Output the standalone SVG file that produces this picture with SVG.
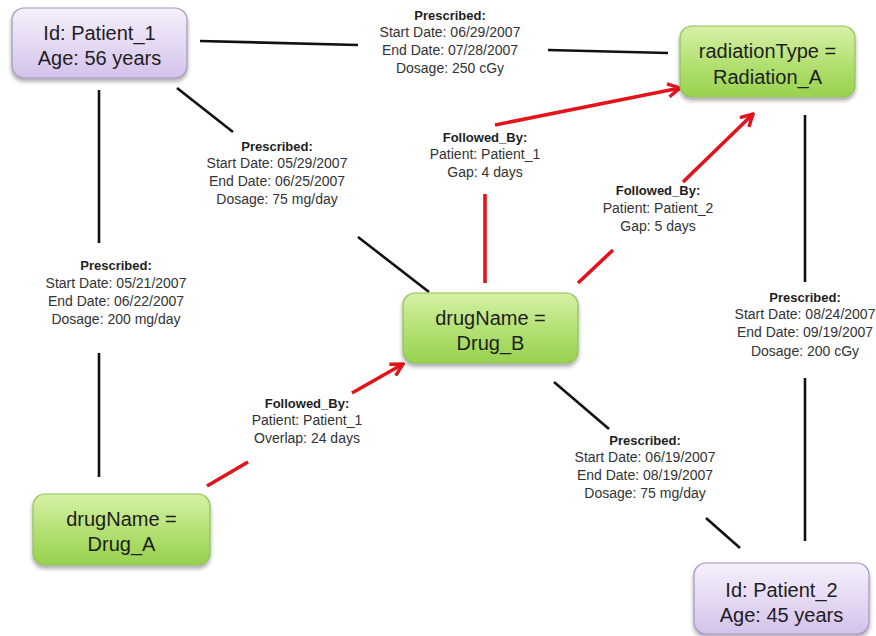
<svg xmlns="http://www.w3.org/2000/svg" width="876" height="636" viewBox="0 0 876 636">
  <style>
    .node-text { font-family: "Liberation Sans", Arial, sans-serif; font-size: 20px; fill: #1e1e1e; text-anchor: middle; }
    .lbl { font-family: "Liberation Sans", Arial, sans-serif; font-size: 14px; fill: #333333; text-anchor: middle; }
    .lbl-h { font-family: "Liberation Sans", Arial, sans-serif; font-size: 13px; font-weight: bold; fill: #1e1e1e; text-anchor: middle; }
    .rel { stroke: #111111; stroke-width: 2.6; fill: none; }
    .seq { stroke: #e3131b; stroke-width: 3.6; fill: none; }
    .patient { fill: url(#gradPatient); stroke: #a494c4; stroke-width: 1.2; filter: url(#shadow); }
    .value { fill: url(#gradValue); stroke: #8fc256; stroke-width: 1.2; filter: url(#shadow); }
  </style>
  <defs>
    <linearGradient id="gradPatient" x1="0" y1="0" x2="0" y2="1">
      <stop offset="0" stop-color="#f5f0fb"/>
      <stop offset="0.5" stop-color="#e6daf3"/>
      <stop offset="1" stop-color="#d3c2ea"/>
    </linearGradient>
    <linearGradient id="gradValue" x1="0" y1="0" x2="0" y2="1">
      <stop offset="0" stop-color="#d6f1a6"/>
      <stop offset="0.5" stop-color="#b5e175"/>
      <stop offset="1" stop-color="#97d24e"/>
    </linearGradient>
    <filter id="shadow" x="-10%" y="-10%" width="125%" height="135%">
      <feGaussianBlur in="SourceAlpha" stdDeviation="2.2"/>
      <feOffset dx="0" dy="2.5" result="blur"/>
      <feComponentTransfer><feFuncA type="linear" slope="0.35"/></feComponentTransfer>
      <feMerge><feMergeNode/><feMergeNode in="SourceGraphic"/></feMerge>
    </filter>
    <marker id="openArrow" viewBox="0 0 16 16" refX="14" refY="8" markerWidth="16" markerHeight="16" markerUnits="userSpaceOnUse" orient="auto">
      <path d="M2,1.5 L14,8 L2,14.5" fill="none" stroke="#e3131b" stroke-width="3.4" stroke-linejoin="miter"/>
    </marker>
  </defs>

  <rect width="876" height="636" fill="#ffffff"/>

  <!-- relationships between nodes -->
  <g id="connectors">
    <!-- Patient_1 prescribed Radiation_A -->
    <g id="p1-radiation">
      <line class="rel" x1="200" y1="41" x2="358" y2="45"/>
      <line class="rel" x1="548" y1="50" x2="668" y2="53"/>
      <text class="lbl-h" x="450" y="20">Prescribed:</text>
      <text class="lbl" x="450" y="37">Start Date: 06/29/2007</text>
      <text class="lbl" x="450" y="55">End Date: 07/28/2007</text>
      <text class="lbl" x="450" y="73">Dosage: 250 cGy</text>
    </g>
    <!-- Patient_1 prescribed Drug_B -->
    <g id="p1-drugb">
      <line class="rel" x1="177" y1="88" x2="233" y2="132"/>
      <line class="rel" x1="358" y1="237" x2="429" y2="292"/>
      <text class="lbl-h" x="277" y="151">Prescribed:</text>
      <text class="lbl" x="277" y="168">Start Date: 05/29/2007</text>
      <text class="lbl" x="277" y="186">End Date: 06/25/2007</text>
      <text class="lbl" x="277" y="204">Dosage: 75 mg/day</text>
    </g>
    <!-- Patient_1 prescribed Drug_A -->
    <g id="p1-druga">
      <line class="rel" x1="99" y1="90" x2="99" y2="243"/>
      <line class="rel" x1="99" y1="353" x2="99" y2="477"/>
      <text class="lbl-h" x="116" y="270">Prescribed:</text>
      <text class="lbl" x="116" y="288">Start Date: 05/21/2007</text>
      <text class="lbl" x="116" y="306">End Date: 06/22/2007</text>
      <text class="lbl" x="116" y="324">Dosage: 200 mg/day</text>
    </g>
    <!-- Drug_B followed by Radiation_A (Patient_1) -->
    <g id="drugb-radiation-p1">
      <line class="seq" x1="485" y1="283" x2="485" y2="194"/>
      <line class="seq" x1="495" y1="125" x2="680" y2="88" marker-end="url(#openArrow)"/>
      <text class="lbl-h" x="485" y="142">Followed_By:</text>
      <text class="lbl" x="485" y="159">Patient: Patient_1</text>
      <text class="lbl" x="485" y="177">Gap: 4 days</text>
    </g>
    <!-- Drug_B followed by Radiation_A (Patient_2) -->
    <g id="drugb-radiation-p2">
      <line class="seq" x1="578" y1="283" x2="613" y2="250"/>
      <line class="seq" x1="683" y1="182" x2="753" y2="114" marker-end="url(#openArrow)"/>
      <text class="lbl-h" x="658" y="195">Followed_By:</text>
      <text class="lbl" x="658" y="213">Patient: Patient_2</text>
      <text class="lbl" x="658" y="231">Gap: 5 days</text>
    </g>
    <!-- Drug_A followed by Drug_B -->
    <g id="druga-drugb">
      <line class="seq" x1="207" y1="486" x2="248" y2="462"/>
      <line class="seq" x1="352" y1="393" x2="403" y2="364" marker-end="url(#openArrow)"/>
      <text class="lbl-h" x="307" y="408">Followed_By:</text>
      <text class="lbl" x="307" y="425">Patient: Patient_1</text>
      <text class="lbl" x="307" y="443">Overlap: 24 days</text>
    </g>
    <!-- Patient_2 prescribed Radiation_A -->
    <g id="p2-radiation">
      <line class="rel" x1="805" y1="115" x2="805" y2="282"/>
      <line class="rel" x1="805" y1="378" x2="805" y2="541"/>
      <text class="lbl-h" x="805" y="302">Prescribed:</text>
      <text class="lbl" x="805" y="319">Start Date: 08/24/2007</text>
      <text class="lbl" x="805" y="337">End Date: 09/19/2007</text>
      <text class="lbl" x="805" y="356">Dosage: 200 cGy</text>
    </g>
    <!-- Patient_2 prescribed Drug_B -->
    <g id="p2-drugb">
      <line class="rel" x1="554" y1="382" x2="609" y2="429"/>
      <line class="rel" x1="706" y1="518" x2="740" y2="548"/>
      <text class="lbl-h" x="645" y="445">Prescribed:</text>
      <text class="lbl" x="645" y="462">Start Date: 06/19/2007</text>
      <text class="lbl" x="645" y="480">End Date: 08/19/2007</text>
      <text class="lbl" x="645" y="498">Dosage: 75 mg/day</text>
    </g>
  </g>

  <!-- nodes -->
  <g id="patient1">
    <rect class="patient" x="12" y="8" width="175" height="70" rx="12"/>
    <text class="node-text" x="99.5" y="40">Id: Patient_1</text>
    <text class="node-text" x="99.5" y="65">Age: 56 years</text>
  </g>
  <g id="radiationA">
    <rect class="value" x="680" y="26" width="175" height="71" rx="12"/>
    <text class="node-text" x="767.5" y="58">radiationType =</text>
    <text class="node-text" x="767.5" y="84">Radiation_A</text>
  </g>
  <g id="drugB">
    <rect class="value" x="403" y="293" width="175" height="70" rx="12"/>
    <text class="node-text" x="490.5" y="325">drugName =</text>
    <text class="node-text" x="490.5" y="350">Drug_B</text>
  </g>
  <g id="drugA">
    <rect class="value" x="33" y="494" width="177" height="71" rx="12"/>
    <text class="node-text" x="121.5" y="526">drugName =</text>
    <text class="node-text" x="121.5" y="551">Drug_A</text>
  </g>
  <g id="patient2">
    <rect class="patient" x="694" y="563" width="175" height="71" rx="12"/>
    <text class="node-text" x="781.5" y="597">Id: Patient_2</text>
    <text class="node-text" x="781.5" y="622">Age: 45 years</text>
  </g>
</svg>
